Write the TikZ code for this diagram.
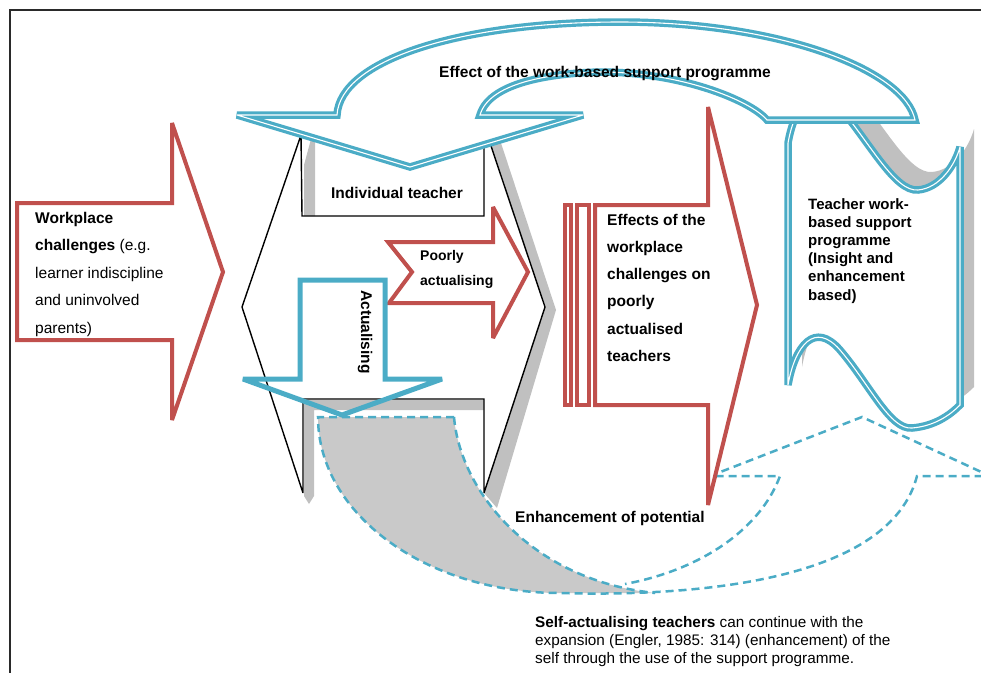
\documentclass[tikz,border=0pt]{standalone}
\usepackage{fontspec}
\setmainfont{Liberation Sans}
\definecolor{aqua}{HTML}{4BACC6}
\definecolor{brick}{HTML}{C0504D}
\definecolor{shadowgray}{HTML}{C0C0C0}
\definecolor{tailgray}{HTML}{C9C9C9}
\definecolor{framegray}{HTML}{2A2A2A}
\begin{document}
\begin{tikzpicture}[x=1pt,y=-1pt,line join=miter,miter limit=4,
  redarrow/.style={draw=brick,line width=4pt,fill=white},
  bluearrow/.style={draw=aqua,line width=5pt},
  bluedouble/.style={draw=aqua,line width=3.2pt,double=white,double distance=1.1pt,fill=white},
  dashedblue/.style={draw=aqua,line width=2.5pt,dash pattern=on 8pt off 5pt},
  hexline/.style={draw=black,line width=1.4pt},
  framestyle/.style={draw=framegray,line width=1.8pt},
  shadowfill/.style={fill=shadowgray},
  txt/.style={inner sep=0pt,align=left}]
\useasboundingbox (0,0) rectangle (981,673);
\begin{scope}
\clip (0,0) rectangle (981,673);
% frame
\coordinate (fa) at (981,10);
\coordinate (fb) at (10,10);
\coordinate (fc) at (10,673);
\draw[framestyle] (fa) -- (fb) -- (fc);

% gray tail of the dashed curved arrow
\fill[tailgray] (318,417) -- (454,417) .. controls (460,490) and (530,580) .. (655,593)
  -- (560,593) .. controls (426,593) and (318,514) .. (318,417) -- cycle;

% shadows of the teacher shape
\fill[shadowfill] (304,216) -- (304,165) -- (311,139) -- (315,139) -- (315,216) -- cycle;
\fill[shadowfill] (490,143) -- (500,140) -- (556,310) -- (497,508) -- (484,493) -- (545,307) -- cycle;
\fill[shadowfill] (304,400) -- (484,400) -- (484,410) -- (314,410) -- (314,496) -- (309,504) -- (304,496) -- cycle;

% teacher shape (black)
\draw[hexline] (302,216) -- (301,135) -- (242,307) -- (303,493) -- (303,399) -- (484,399)
  -- (484,493) -- (545,307) -- (490,143) -- (484,145) -- (484,216) -- cycle;

% dashed curved up arrow
\draw[dashedblue] (454,417) -- (318,417) .. controls (318,514) and (426,593) .. (560,593)
  .. controls (700,597) and (890,580) .. (917,476) -- (990,476) -- (862,417) -- (710,476)
  -- (780,476) .. controls (760,530) and (700,570) .. (625,584);
\draw[dashedblue] (454,417) .. controls (460,490) and (530,580) .. (655,593);

% red arrow: workplace challenges
\draw[redarrow] (17,203) -- (172,203) -- (172,123) -- (223,272) -- (172,420) -- (172,340) -- (17,340) -- cycle;

% red notched arrow: poorly actualising
\draw[redarrow] (388,242) -- (493,242) -- (493,207) -- (528,272) -- (493,338) -- (493,303) -- (389,303) -- (412,272) -- cycle;

% blue down arrow: actualising
\draw[bluearrow] (300,280) -- (385,280) -- (385,379) -- (442,379) -- (342,415) -- (243,379) -- (300,379) -- cycle;

% striped red arrow: effects
\draw[redarrow] (565,205) rectangle (571,405);
\draw[redarrow] (577,205) rectangle (589,405);
\draw[redarrow] (595,205) -- (708,205) -- (708,107) -- (757,305) -- (708,505) -- (708,405) -- (595,405) -- cycle;

% wave shape (support programme) with shadow
\fill[shadowfill,shift={(14,-18)}] (788,143) .. controls (795,103) and (815,83) .. (840,108)
  .. controls (870,143) and (895,192) .. (918,190) .. controls (940,188) and (955,165) .. (960,147)
  -- (960,405) .. controls (950,415) and (935,426) .. (912,428) .. controls (890,430) and (870,385) .. (840,350)
  .. controls (815,321) and (795,345) .. (788,385) -- cycle;
\draw[bluedouble] (788,143) .. controls (795,103) and (815,83) .. (840,108)
  .. controls (870,143) and (895,192) .. (918,190) .. controls (940,188) and (955,165) .. (960,147)
  -- (960,405) .. controls (950,415) and (935,426) .. (912,428) .. controls (890,430) and (870,385) .. (840,350)
  .. controls (815,321) and (795,345) .. (788,385) -- cycle;

% curved down arrow on top
\draw[bluedouble] (915,120) .. controls (905,70) and (780,22) .. (620,22)
  .. controls (460,22) and (340,60) .. (337,115) -- (237,115) -- (410,167) -- (583,115) -- (480,115)
  .. controls (490,80) and (560,73) .. (600,72) .. controls (680,72) and (750,100) .. (767,120) -- cycle;

% texts (anchor base = baseline of the last line)
\node[txt,anchor=base west,font=\fontsize{15.5}{27.5}\selectfont] (wc) at (35,333)
  {\textbf{Workplace}\\\textbf{challenges} (e.g.\\learner indiscipline\\and uninvolved\\parents)};
\node[txt,anchor=base,font=\fontsize{15.5}{18}\selectfont\bfseries] (it) at (397,198) {Individual teacher};
\node[txt,anchor=base west,font=\fontsize{14}{25}\selectfont\bfseries] (pa) at (420,285) {Poorly\\actualising};
\node[txt,rotate=-90,font=\fontsize{15.5}{18}\selectfont\bfseries] (ac) at (365,332) {Actualising};
\node[txt,anchor=base west,font=\fontsize{15.5}{27.3}\selectfont\bfseries] (ef) at (607,361.5)
  {Effects of the\\workplace\\challenges on\\poorly\\actualised\\teachers};
\node[txt,anchor=base west,font=\fontsize{15}{18.2}\selectfont\bfseries] (tw) at (808,300)
  {Teacher work-\\based support\\programme\\(Insight and\\enhancement\\based)};
\node[txt,anchor=base,font=\fontsize{15.5}{18}\selectfont\bfseries] (eo) at (605,77)
  {Effect of the work-based support programme};
\node[txt,anchor=base west,font=\fontsize{15.5}{18}\selectfont\bfseries] (en) at (515,522)
  {Enhancement of potential};
\node[txt,anchor=base west,font=\fontsize{15.3}{18}\selectfont] (sa) at (535,663)
  {\textbf{Self-actualising teachers} can continue with the\\expansion (Engler, 1985: 314) (enhancement) of the\\self through the use of the support programme.};
\end{scope}
\end{tikzpicture}
\end{document}
